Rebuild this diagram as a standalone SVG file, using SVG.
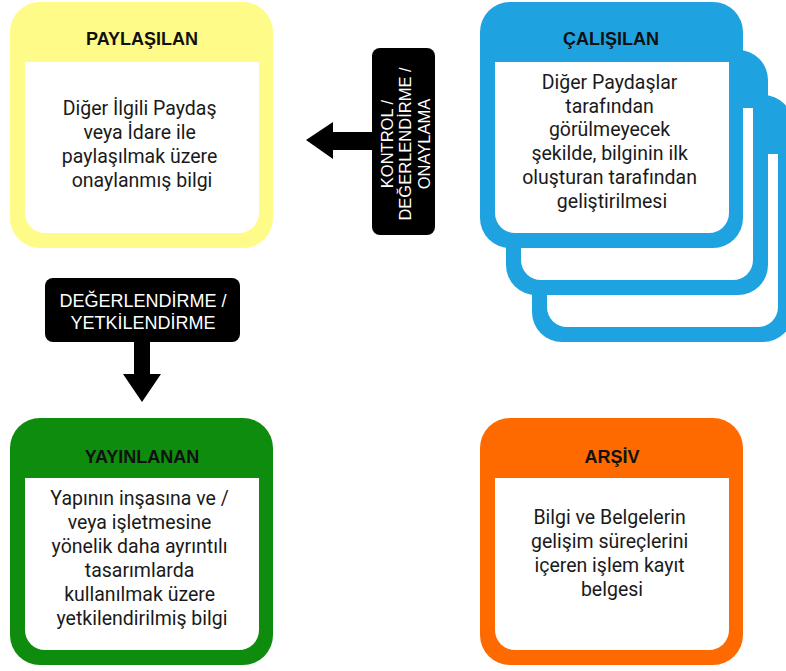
<svg xmlns="http://www.w3.org/2000/svg" width="786" height="671" viewBox="0 0 786 671">
  <style>
    .hdr { font-family: "Liberation Sans", Arial, sans-serif; font-weight: bold; font-size: 18px; fill: #111; text-anchor: middle; }
    .body { font-family: Roboto, "Noto Sans", sans-serif; font-size: 19.5px; fill: #1a1a1a; text-anchor: middle; }
    .lbl { font-family: "Liberation Sans", Arial, sans-serif; fill: #fff; text-anchor: middle; }
    .inner { fill: #fff; }
    .yellow { fill: #FFFB88; }
    .blue { fill: #1FA2E0; }
    .green { fill: #0E8C0E; }
    .orange { fill: #FF6A00; }
    .blk { fill: #000; }
  </style>
  <rect width="786" height="671" fill="#fff"/>

  <g id="paylasilan">
    <rect class="yellow" x="10" y="2" width="263" height="246" rx="30"/>
    <path class="inner" d="M25 62 H259 V213 A20 20 0 0 1 239 233 H45 A20 20 0 0 1 25 213 Z"/>
    <text class="hdr" x="142" y="45">PAYLAŞILAN</text>
    <text class="body" x="142">
      <tspan x="142" y="115">Diğer İlgili Paydaş</tspan>
      <tspan x="142" y="139">veya İdare ile</tspan>
      <tspan x="142" y="163">paylaşılmak üzere</tspan>
      <tspan x="142" y="187">onaylanmış bilgi</tspan>
    </text>
  </g>

  <g id="calisilan">
    <rect class="blue" x="532" y="95" width="261" height="247" rx="30"/>
    <path class="inner" d="M547 154 H778 V307 A20 20 0 0 1 758 327 H567 A20 20 0 0 1 547 307 Z"/>
    <rect class="blue" x="506" y="50" width="262" height="245" rx="30"/>
    <path class="inner" d="M521 108 H753 V260 A20 20 0 0 1 733 280 H541 A20 20 0 0 1 521 260 Z"/>
    <rect class="blue" x="480" y="2" width="263" height="246" rx="30"/>
    <path class="inner" d="M495 62 H729 V213 A20 20 0 0 1 709 233 H515 A20 20 0 0 1 495 213 Z"/>
    <text class="hdr" x="611" y="45">ÇALIŞILAN</text>
    <text class="body">
      <tspan x="612" y="89">Diğer Paydaşlar</tspan>
      <tspan x="612" y="113">tarafından</tspan>
      <tspan x="612" y="136">görülmeyecek</tspan>
      <tspan x="612" y="160">şekilde, bilginin ilk</tspan>
      <tspan x="612" y="184">oluşturan tarafından</tspan>
      <tspan x="612" y="208">geliştirilmesi</tspan>
    </text>
  </g>

  <g id="yayinlanan">
    <rect class="green" x="10" y="418" width="263" height="247" rx="30"/>
    <path class="inner" d="M25 478 H259 V630 A20 20 0 0 1 239 650 H45 A20 20 0 0 1 25 630 Z"/>
    <text class="hdr" x="142" y="463">YAYINLANAN</text>
    <text class="body">
      <tspan x="142" y="505">Yapının inşasına ve /</tspan>
      <tspan x="142" y="529">veya işletmesine</tspan>
      <tspan x="142" y="553">yönelik daha ayrıntılı</tspan>
      <tspan x="142" y="577">tasarımlarda</tspan>
      <tspan x="142" y="601">kullanılmak üzere</tspan>
      <tspan x="142" y="625">yetkilendirilmiş bilgi</tspan>
    </text>
  </g>

  <g id="arsiv">
    <rect class="orange" x="480" y="418" width="263" height="247" rx="30"/>
    <path class="inner" d="M495 478 H729 V630 A20 20 0 0 1 709 650 H515 A20 20 0 0 1 495 630 Z"/>
    <text class="hdr" x="612" y="463">ARŞİV</text>
    <text class="body">
      <tspan x="612" y="524">Bilgi ve Belgelerin</tspan>
      <tspan x="612" y="548">gelişim süreçlerini</tspan>
      <tspan x="612" y="572">içeren işlem kayıt</tspan>
      <tspan x="612" y="596">belgesi</tspan>
    </text>
  </g>

  <g id="connectors">
    <g id="edge-calisilan-paylasilan">
      <polygon class="blk" points="306,140 333,122 333,132 374,132 374,150 333,150 333,159"/>
      <rect class="blk" x="372" y="48" width="63" height="187" rx="8"/>
      <g transform="translate(0,144)">
        <text class="lbl" font-size="16.5" transform="translate(393,0) rotate(-90)" x="0" y="0">KONTROL /</text>
        <text class="lbl" font-size="16.5" transform="translate(411,0) rotate(-90)" x="0" y="0">DEĞERLENDİRME /</text>
        <text class="lbl" font-size="16.5" transform="translate(430,0) rotate(-90)" x="0" y="0">ONAYLAMA</text>
      </g>
    </g>
    <g id="edge-paylasilan-yayinlanan">
      <polygon class="blk" points="134,340 150,340 150,374 161,374 142,402 123,374 134,374"/>
      <rect class="blk" x="45" y="278" width="195" height="64" rx="8"/>
      <text class="lbl" font-size="18" x="143" y="307">DEĞERLENDİRME /</text>
      <text class="lbl" font-size="18" x="143" y="329">YETKİLENDİRME</text>
    </g>
  </g>
</svg>
